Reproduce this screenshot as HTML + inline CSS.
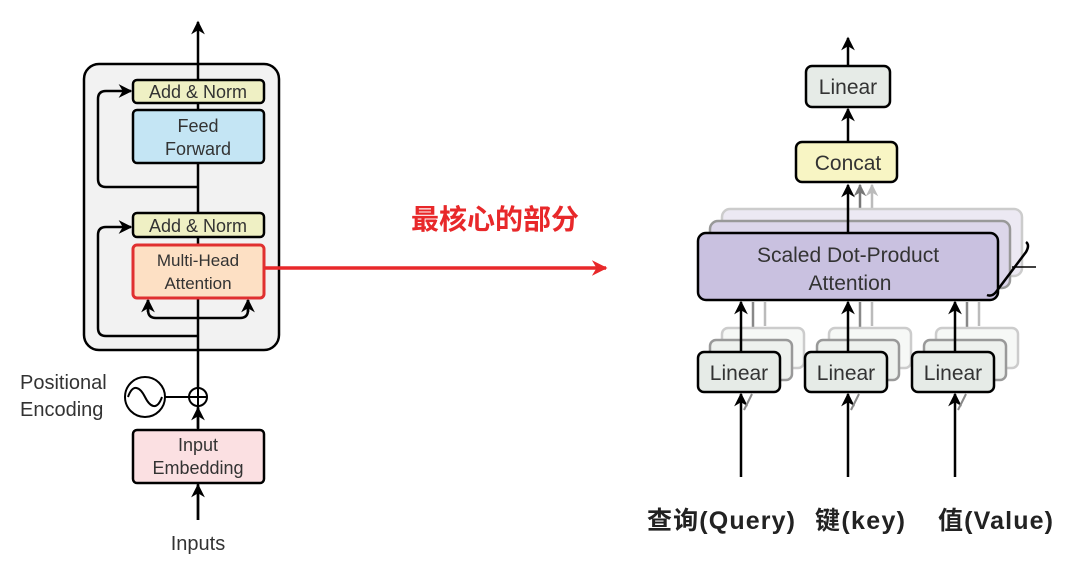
<!DOCTYPE html>
<html><head><meta charset="utf-8"><style>
html,body{margin:0;padding:0;background:#fff;width:1080px;height:586px;overflow:hidden}
svg{display:block}
text{font-family:"Liberation Sans","Noto Sans CJK SC",sans-serif}
</style></head><body>
<svg width="1080" height="586" viewBox="0 0 1080 586" xmlns="http://www.w3.org/2000/svg">
<defs>
<marker id="a" viewBox="0 0 10 10" refX="9" refY="5" markerWidth="5.5" markerHeight="5.5" orient="auto"><path d="M0,0 L10,5 L0,10 L3,5z" fill="#000"/></marker>
<marker id="ag" viewBox="0 0 10 10" refX="9" refY="5" markerWidth="5" markerHeight="5" orient="auto"><path d="M0,0 L10,5 L0,10 L3,5z" fill="#777"/></marker>
<marker id="al" viewBox="0 0 10 10" refX="9" refY="5" markerWidth="5" markerHeight="5" orient="auto"><path d="M0,0 L10,5 L0,10 L3,5z" fill="#bbb"/></marker>
<marker id="ar" viewBox="0 0 10 10" refX="9" refY="5" markerWidth="4.5" markerHeight="4.5" orient="auto"><path d="M0,0 L10,5 L0,10 L3,5z" fill="#e8282a"/></marker>
</defs>
<!-- LEFT -->
<rect x="84" y="64" width="195" height="286" rx="15" fill="#f2f2f2" stroke="#000" stroke-width="2.5"/>
<line x1="198" y1="520" x2="198" y2="22" stroke="#000" stroke-width="2.5" marker-end="url(#a)"/>
<path d="M198,187 H106 Q98,187 98,179 V99 Q98,91 106,91 H131" fill="none" stroke="#000" stroke-width="2.5" marker-end="url(#a)"/>
<path d="M198,336 H106 Q98,336 98,328 V235 Q98,227 106,227 H131" fill="none" stroke="#000" stroke-width="2.5" marker-end="url(#a)"/>
<path d="M148,300 V310 Q148,318 156,318 H240 Q248,318 248,310 V300" fill="none" stroke="#000" stroke-width="2.5"/>
<line x1="148" y1="312" x2="148" y2="300" stroke="#000" stroke-width="2.5" marker-end="url(#a)"/>
<line x1="248" y1="312" x2="248" y2="300" stroke="#000" stroke-width="2.5" marker-end="url(#a)"/>
<rect x="133" y="80" width="131" height="23" rx="4" fill="#eff0c4" stroke="#000" stroke-width="2.5"/>
<text x="198" y="98" font-size="18" text-anchor="middle" fill="#333">Add &amp; Norm</text>
<rect x="133" y="110" width="131" height="53" rx="4" fill="#c4e5f4" stroke="#000" stroke-width="2.5"/>
<text x="198" y="132" font-size="18" text-anchor="middle" fill="#333">Feed</text>
<text x="198" y="155" font-size="18" text-anchor="middle" fill="#333">Forward</text>
<rect x="133" y="213" width="131" height="24" rx="4" fill="#eff0c4" stroke="#000" stroke-width="2.5"/>
<text x="198" y="232" font-size="18" text-anchor="middle" fill="#333">Add &amp; Norm</text>
<rect x="133" y="245" width="131" height="53" rx="4" fill="#fde0c4" stroke="#e03030" stroke-width="3"/>
<text x="198" y="266" font-size="17" text-anchor="middle" fill="#333">Multi-Head</text>
<text x="198" y="289" font-size="17" text-anchor="middle" fill="#333">Attention</text>
<circle cx="145" cy="397" r="20" fill="#fff" stroke="#000" stroke-width="2"/>
<path d="M128,397 C133,383 140,387 145,397 C150,407 157,411 162,397" fill="none" stroke="#000" stroke-width="2"/>
<line x1="165" y1="397" x2="189" y2="397" stroke="#000" stroke-width="2"/>
<circle cx="198" cy="397" r="9" fill="#fff" stroke="#000" stroke-width="2"/>
<line x1="189" y1="397" x2="207" y2="397" stroke="#000" stroke-width="2"/>
<line x1="198" y1="388" x2="198" y2="406" stroke="#000" stroke-width="2"/>
<line x1="198" y1="428" x2="198" y2="408" stroke="#000" stroke-width="2.5" marker-end="url(#a)"/>
<text x="20" y="389" font-size="20" fill="#333">Positional</text>
<text x="20" y="416" font-size="20" fill="#333">Encoding</text>
<rect x="133" y="430" width="131" height="53" rx="4" fill="#fbe0e2" stroke="#000" stroke-width="2.5"/>
<text x="198" y="451" font-size="18" text-anchor="middle" fill="#333">Input</text>
<text x="198" y="474" font-size="18" text-anchor="middle" fill="#333">Embedding</text>
<line x1="198" y1="520" x2="198" y2="485" stroke="#000" stroke-width="2.5" marker-end="url(#a)"/>
<text x="198" y="550" font-size="20" text-anchor="middle" fill="#333">Inputs</text>
<!-- red arrow -->
<line x1="265" y1="268" x2="606" y2="268" stroke="#e8282a" stroke-width="3.5" marker-end="url(#ar)"/>
<text x="495" y="229" font-size="28" font-weight="bold" text-anchor="middle" fill="#e8282a">最核心的部分</text>
<!-- RIGHT -->
<line x1="848" y1="66" x2="848" y2="38" stroke="#000" stroke-width="2.5" marker-end="url(#a)"/>
<rect x="806" y="66" width="84" height="41" rx="6" fill="#e6ebe7" stroke="#000" stroke-width="2.5"/>
<text x="848" y="94" font-size="21" text-anchor="middle" fill="#333">Linear</text>
<line x1="848" y1="142" x2="848" y2="109" stroke="#000" stroke-width="2.5" marker-end="url(#a)"/>
<rect x="796" y="142" width="101" height="40" rx="6" fill="#f8f5c4" stroke="#000" stroke-width="2.5"/>
<text x="848" y="170" font-size="21" text-anchor="middle" fill="#333">Concat</text>
<line x1="872" y1="210" x2="872" y2="185" stroke="#bbb" stroke-width="2.5" marker-end="url(#al)"/>
<line x1="860" y1="222" x2="860" y2="185" stroke="#777" stroke-width="2.5" marker-end="url(#ag)"/>
<rect x="722" y="209" width="300" height="67" rx="8" fill="#ece9f3" stroke="#ccc" stroke-width="2.5"/>
<rect x="710" y="221" width="300" height="67" rx="8" fill="#dcd6ea" stroke="#999" stroke-width="2.5"/>
<line x1="848" y1="233" x2="848" y2="185" stroke="#000" stroke-width="2.5" marker-end="url(#a)"/>
<rect x="698" y="233" width="300" height="67" rx="8" fill="#c9c1e0" stroke="#000" stroke-width="2.5"/>
<text x="848" y="262" font-size="21" text-anchor="middle" fill="#333">Scaled Dot-Product</text>
<text x="850" y="290" font-size="21" text-anchor="middle" fill="#333">Attention</text>
<path d="M1026,242 Q1030,245 1026,252 L996,292 Q992,297 987,295" fill="none" stroke="#000" stroke-width="2.5"/>
<line x1="1012" y1="267" x2="1036" y2="267" stroke="#000" stroke-width="1.5"/>
<g id="lin">
<line x1="765" y1="326" x2="765" y2="302" stroke="#bbb" stroke-width="2.5"/>
<line x1="753" y1="338" x2="753" y2="302" stroke="#888" stroke-width="2.5"/>
<rect x="722" y="328" width="82" height="40" rx="6" fill="#f6f8f6" stroke="#ccc" stroke-width="2.5"/>
<rect x="710" y="340" width="82" height="40" rx="6" fill="#eef1ee" stroke="#999" stroke-width="2.5"/>
<line x1="741" y1="352" x2="741" y2="302" stroke="#000" stroke-width="2.5" marker-end="url(#a)"/>
<rect x="698" y="352" width="82" height="40" rx="6" fill="#e6ebe7" stroke="#000" stroke-width="2.5"/>
<text x="739" y="380" font-size="21" text-anchor="middle" fill="#333">Linear</text>
<line x1="741" y1="477" x2="741" y2="394" stroke="#000" stroke-width="2.5" marker-end="url(#a)"/>
<line x1="744" y1="410" x2="752" y2="394" stroke="#888" stroke-width="2"/>
</g>
<use href="#lin" x="107"/>
<use href="#lin" x="214"/>
<text x="647" y="529" font-size="25" font-weight="bold" fill="#222" textLength="148">查询(Query)</text>
<text x="815" y="529" font-size="25" font-weight="bold" fill="#222" textLength="90">键(key)</text>
<text x="938" y="529" font-size="25" font-weight="bold" fill="#222" textLength="115">值(Value)</text>
</svg>
</body></html>
